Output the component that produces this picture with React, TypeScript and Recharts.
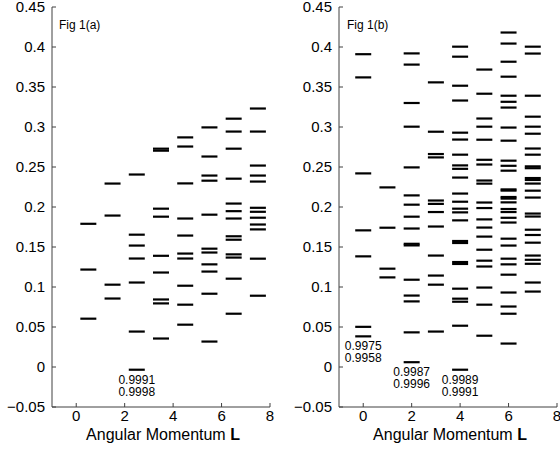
import * as React from 'react';
import { ScatterChart, Scatter, XAxis, YAxis, Label } from 'recharts';

// energy levels per angular momentum L, panel (a)
const a0 = [0.179, 0.1218, 0.0604];
const a1 = [0.2293, 0.1893, 0.1029, 0.0856];
const a2 = [0.2406, 0.1654, 0.1518, 0.1356, 0.1056, 0.0443, -0.0034];
const a3 = [0.2729, 0.2704, 0.1979, 0.1879, 0.139, 0.1181, 0.0844, 0.0795, 0.0356];
const a4 = [0.287, 0.2756, 0.2295, 0.1856, 0.1643, 0.1418, 0.1356, 0.1016, 0.0779, 0.0529];
const a5 = [0.2995, 0.2631, 0.2393, 0.2329, 0.1904, 0.1479, 0.1431, 0.1283, 0.1193, 0.0916, 0.0318];
const a6 = [0.3104, 0.2943, 0.2729, 0.2354, 0.2043, 0.1948, 0.1856, 0.1634, 0.1591, 0.1408, 0.1368, 0.1104, 0.0666];
const a7 = [0.3231, 0.2943, 0.2518, 0.2393, 0.2318, 0.199, 0.194, 0.1866, 0.1781, 0.172, 0.1354, 0.0891];

// panel (b)
const b0 = [0.391, 0.362, 0.242, 0.1708, 0.1383, 0.0502, 0.0383];
const b1 = [0.2245, 0.1741, 0.1229, 0.112];
const b2 = [0.392, 0.378, 0.33, 0.3004, 0.2495, 0.2145, 0.2029, 0.1879, 0.1731, 0.154, 0.152, 0.1091, 0.0893, 0.082, 0.0433, 0.006];
const b3 = [0.3558, 0.2941, 0.2662, 0.262, 0.2081, 0.2039, 0.1937, 0.1756, 0.1393, 0.1143, 0.1029, 0.0443];
const b4 = [0.4004, 0.3879, 0.3516, 0.3331, 0.2929, 0.2843, 0.2654, 0.252, 0.2477, 0.2368, 0.2168, 0.2066, 0.1979, 0.1933, 0.1833,
  0.1575, 0.155, 0.1312, 0.1288, 0.0979, 0.0854, 0.0816, 0.0516, -0.0034];
const b5 = [0.3718, 0.3416, 0.3106, 0.3004, 0.2841, 0.259, 0.2531, 0.2331, 0.2292, 0.2056, 0.1987, 0.1845, 0.1743, 0.163, 0.1466,
  0.1329, 0.1256, 0.0993, 0.0779, 0.0391];
const b6 = [0.4181, 0.4043, 0.3816, 0.3629, 0.3391, 0.3315, 0.3243, 0.2993, 0.2829, 0.2579, 0.2515, 0.2454, 0.222, 0.2205, 0.2125,
  0.2105, 0.2058, 0.1975, 0.1937, 0.1865, 0.1806, 0.1604, 0.1518, 0.1354, 0.1283, 0.1154, 0.0931, 0.0756, 0.0666, 0.0293];
const b7 = [0.4004, 0.3918, 0.3391, 0.3129, 0.3004, 0.2916, 0.2731, 0.2654, 0.2508, 0.2485, 0.2362, 0.2338, 0.2293, 0.2204, 0.2118,
  0.1918, 0.1881, 0.1716, 0.165, 0.1554, 0.1393, 0.134, 0.129, 0.1056, 0.0943];

const levelsA = [a0, a1, a2, a3, a4, a5, a6, a7];
const levelsB = [b0, b1, b2, b3, b4, b5, b6, b7];

// overlap numbers written under the lowest level of some columns
const notesA = [{ L: 2, E: -0.0034, lines: ['0.9991', '0.9998'] }];
const notesB = [
  { L: 0, E: 0.0383, lines: ['0.9975', '0.9958'] },
  { L: 2, E: 0.006, lines: ['0.9987', '0.9996'] },
  { L: 4, E: -0.0034, lines: ['0.9989', '0.9991'] },
];

const xTicks = [0, 2, 4, 6, 8];
const yTicks = [-0.05, 0, 0.05, 0.1, 0.15, 0.2, 0.25, 0.3, 0.35, 0.4, 0.45];

const font = '"Liberation Sans", Arial, Helvetica, sans-serif';
const axisColor = '#404040';

const fmt = (v: number) => (v < 0 ? '\u2212' + String(Math.abs(v)) : String(v));

const LevelMark = (props: any) => {
  const { cx, cy } = props;
  if (cx == null || cy == null) return null;
  return <line x1={cx - 8} x2={cx + 8} y1={cy} y2={cy} stroke="#000" strokeWidth={2.2} />;
};

const NoteMark = (props: any) => {
  const { cx, cy, payload } = props;
  if (cx == null || cy == null) return null;
  return (
    <g>
      {payload.lines.map((t: string, i: number) => (
        <text key={i} x={cx} y={cy + 14 + i * 12} textAnchor="middle" fontSize={12} fontFamily={font} fill="#000">
          {t}
        </text>
      ))}
    </g>
  );
};

const AxisTitle = (props: any) => {
  const vb = props.viewBox || { x: 0, y: 0, width: 0 };
  return (
    <text x={vb.x + vb.width / 2 + 2} y={vb.y + 33} textAnchor="middle" fontSize={16} fontFamily={font} fill="#000">
      Angular Momentum <tspan fontWeight="bold">L</tspan>
    </text>
  );
};

interface PanelProps {
  levels: number[][];
  notes: { L: number; E: number; lines: string[] }[];
  shift: number;
  axisWidth: number;
  right: number;
  tag: string;
  tagLeft: number;
}

function Panel({ levels, notes, shift, axisWidth, right, tag, tagLeft }: PanelProps) {
  const points: { x: number; y: number }[] = [];
  levels.forEach((list, L) => list.forEach((E) => points.push({ x: L + shift, y: E })));
  const notePts = notes.map((n) => ({ x: n.L + shift, y: n.E, lines: n.lines }));

  return (
    <div style={{ position: 'relative', width: 280, height: 453 }}>
      <ScatterChart width={280} height={453} margin={{ top: 7, right, bottom: 0, left: 0 }}>
        <XAxis
          type="number"
          dataKey="x"
          domain={[-1, 8]}
          ticks={xTicks}
          interval={0}
          height={46}
          tickSize={-4}
          tickMargin={7}
          stroke={axisColor}
          tick={{ fontSize: 15, fill: '#000', fontFamily: font }}
        >
          <Label content={AxisTitle} />
        </XAxis>
        <YAxis
          type="number"
          dataKey="y"
          domain={[-0.05, 0.45]}
          ticks={yTicks}
          interval={0}
          width={axisWidth}
          tickSize={-4}
          tickMargin={11}
          stroke={axisColor}
          tickFormatter={fmt}
          tick={{ fontSize: 15, fill: '#000', fontFamily: font }}
        />
        <Scatter data={points} shape={LevelMark} isAnimationActive={false} />
        <Scatter data={notePts} shape={NoteMark} isAnimationActive={false} />
      </ScatterChart>
      <div
        style={{
          position: 'absolute',
          left: tagLeft,
          top: 18,
          fontSize: 12,
          lineHeight: '14px',
          fontFamily: font,
          color: '#000',
        }}
      >
        {tag}
      </div>
    </div>
  );
}

export default function App() {
  return (
    <div style={{ position: 'absolute', left: 0, top: 0, width: 560, height: 453, display: 'flex', background: '#fff', overflow: 'hidden' }}>
      <Panel levels={levelsA} notes={notesA} shift={0.5} axisWidth={52} right={10} tag="Fig 1(a)" tagLeft={59} />
      <Panel levels={levelsB} notes={notesB} shift={0} axisWidth={59} right={3} tag="Fig 1(b)" tagLeft={67} />
    </div>
  );
}
